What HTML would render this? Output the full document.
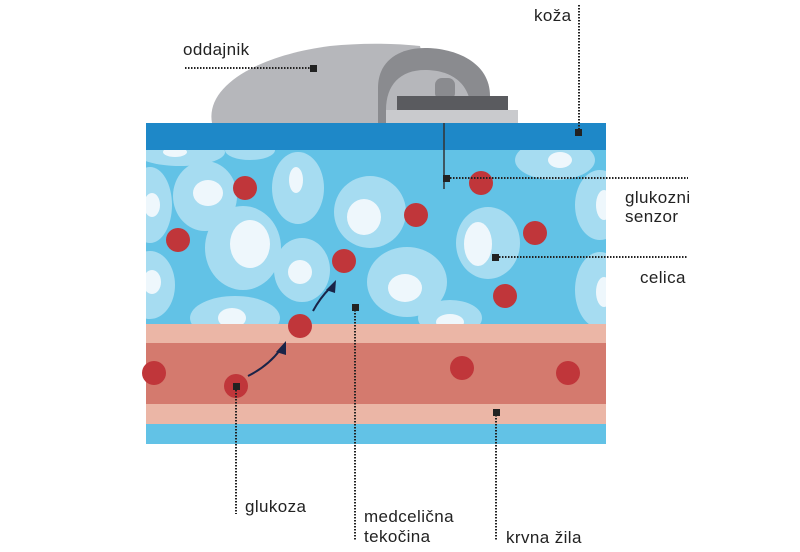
<!DOCTYPE html>
<html><head><meta charset="utf-8"><style>
html,body{margin:0;padding:0;background:#fff;width:800px;height:552px;overflow:hidden}
svg{display:block}
text{font-family:"Liberation Sans",sans-serif;font-size:17px;fill:#222;letter-spacing:0.4px}
</style></head><body>
<svg width="800" height="552" viewBox="0 0 800 552" xmlns="http://www.w3.org/2000/svg">
<defs>
<clipPath id="t"><rect x="146" y="150" width="460" height="174"/></clipPath>
</defs>
<rect x="146" y="150" width="460" height="174" fill="#62c2e6"/>
<g clip-path="url(#t)">
<g fill="#a6dcf1">
<ellipse cx="205" cy="196" rx="32" ry="35"/>
<ellipse cx="298" cy="188" rx="26" ry="36"/>
<ellipse cx="243" cy="248" rx="38" ry="42"/>
<ellipse cx="302" cy="270" rx="28" ry="32"/>
<ellipse cx="150" cy="205" rx="22" ry="38"/>
<ellipse cx="150" cy="285" rx="25" ry="34"/>
<ellipse cx="370" cy="212" rx="36" ry="36"/>
<ellipse cx="407" cy="282" rx="40" ry="35"/>
<ellipse cx="488" cy="243" rx="32" ry="36"/>
<ellipse cx="450" cy="318" rx="32" ry="18"/>
<ellipse cx="235" cy="318" rx="45" ry="22"/>
<ellipse cx="180" cy="152" rx="45" ry="14"/>
<ellipse cx="250" cy="150" rx="25" ry="10"/>
<ellipse cx="555" cy="160" rx="40" ry="20"/>
<ellipse cx="600" cy="205" rx="25" ry="35"/>
<ellipse cx="600" cy="290" rx="25" ry="38"/>
</g>
<g fill="#eef7fc">
<ellipse cx="208" cy="193" rx="15" ry="13"/>
<ellipse cx="296" cy="180" rx="7" ry="13"/>
<ellipse cx="250" cy="244" rx="20" ry="24"/>
<ellipse cx="300" cy="272" rx="12" ry="12"/>
<ellipse cx="152" cy="205" rx="8" ry="12"/>
<ellipse cx="152" cy="282" rx="9" ry="12"/>
<ellipse cx="364" cy="217" rx="17" ry="18"/>
<ellipse cx="405" cy="288" rx="17" ry="14"/>
<ellipse cx="478" cy="244" rx="14" ry="22"/>
<ellipse cx="450" cy="322" rx="14" ry="8"/>
<ellipse cx="232" cy="318" rx="14" ry="10"/>
<ellipse cx="175" cy="152" rx="12" ry="5"/>
<ellipse cx="560" cy="160" rx="12" ry="8"/>
<ellipse cx="604" cy="205" rx="8" ry="15"/>
<ellipse cx="604" cy="292" rx="8" ry="15"/>
</g>
</g>
<rect x="146" y="123" width="460" height="27" fill="#1e88c8"/>
<rect x="146" y="324" width="460" height="19" fill="#ebb6a6"/>
<rect x="146" y="343" width="460" height="61" fill="#d47a6e"/>
<rect x="146" y="404" width="460" height="20" fill="#ebb6a6"/>
<rect x="146" y="424" width="460" height="20" fill="#62c2e6"/>
<path d="M212 123 C205 85 260 55 330 46 C360 43 390 43 420 46 L440 123 Z" fill="#b6b7bb"/>
<path d="M378 123 L378 88 C378 60 400 48 425 48 C455 48 490 62 490 96 L490 123 Z" fill="#8a8b8f"/>
<path d="M386 110 C386 85 400 70 425 70 C450 70 470 82 471 110 Z" fill="#b6b7bb"/>
<rect x="435" y="78" width="20" height="22" rx="7" fill="#8a8b8f"/>
<rect x="397" y="96" width="111" height="14" fill="#5a5b5f"/>
<rect x="386" y="110" width="132" height="13" fill="#c9cacd"/>
<line x1="444" y1="123" x2="444" y2="189" stroke="#333" stroke-width="1.5"/>
<g fill="#c0363a">
<circle cx="245" cy="188" r="12"/><circle cx="178" cy="240" r="12"/><circle cx="344" cy="261" r="12"/>
<circle cx="416" cy="215" r="12"/><circle cx="481" cy="183" r="12"/><circle cx="535" cy="233" r="12"/>
<circle cx="505" cy="296" r="12"/><circle cx="300" cy="326" r="12"/><circle cx="154" cy="373" r="12"/>
<circle cx="236" cy="386" r="12"/><circle cx="462" cy="368" r="12"/><circle cx="568" cy="373" r="12"/>
</g>
<g stroke="#1a2448" stroke-width="2" fill="none">
<path d="M248 376 Q268 366 280 350"/>
<path d="M313 311 Q320 298 330 288"/>
</g>
<g fill="#1a2448">
<path d="M286 341 L276 352 L286 355 Z"/>
<path d="M336 280 L326 290 L335 293 Z"/>
</g>
<g stroke="#222" stroke-width="2" stroke-dasharray="1.5 1.5" fill="none">
<line x1="185" y1="68" x2="313" y2="68"/>
<line x1="579" y1="5" x2="579" y2="133"/>
<line x1="447" y1="178" x2="688" y2="178"/>
<line x1="496" y1="257" x2="688" y2="257"/>
<line x1="236" y1="387" x2="236" y2="514"/>
<line x1="355" y1="307" x2="355" y2="541"/>
<line x1="496" y1="412" x2="496" y2="541"/>
</g>
<g fill="#222">
<rect x="310" y="65" width="7" height="7"/>
<rect x="575" y="129" width="7" height="7"/>
<rect x="443" y="175" width="7" height="7"/>
<rect x="492" y="254" width="7" height="7"/>
<rect x="233" y="383" width="7" height="7"/>
<rect x="352" y="304" width="7" height="7"/>
<rect x="493" y="409" width="7" height="7"/>
</g>
<text x="183" y="55">oddajnik</text>
<text x="534" y="21">koža</text>
<text x="625" y="203">glukozni</text>
<text x="625" y="222">senzor</text>
<text x="640" y="283">celica</text>
<text x="245" y="512">glukoza</text>
<text x="364" y="522">medcelična</text>
<text x="364" y="542">tekočina</text>
<text x="506" y="543">krvna žila</text>
</svg>
</body></html>
